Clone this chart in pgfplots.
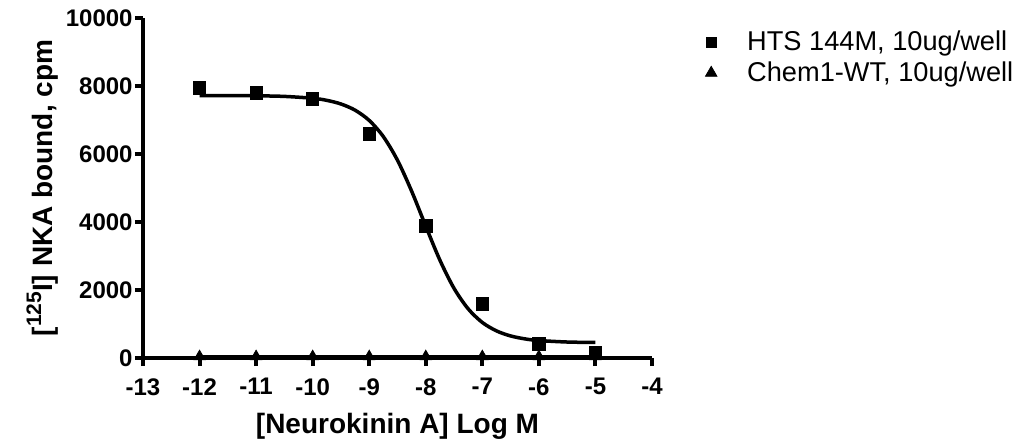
\documentclass[border=0pt]{standalone}
\usepackage{pgfplots}
\pgfplotsset{compat=1.18}
\usepackage{fontspec}
\setmainfont{Liberation Sans}

\pgfplotstableread{
x y
-12 7950
-11 7800
-10 7620
-9 6590
-8 3880
-7 1590
-6 410
-5 150
}\hts

\pgfplotstableread{
x y
-12 40
-11 40
-10 40
-9 40
-8 40
-7 40
-6 40
-5 40
}\chem

\pgfplotstableread{
x y
-12 7719
-11.5 7717
-11 7712
-10.5 7694
-10 7639
-9.75 7578
-9.5 7471
-9.25 7289
-9 6987
-8.75 6511
-8.5 5816
-8.25 4907
-8 3876
-7.75 2877
-7.5 2048
-7.25 1445
-7 1045
-6.75 797
-6.5 649
-6.25 563
-6 514
-5.5 470
-5 456
}\fit

\begin{document}
\begin{tikzpicture}
\path[use as bounding box] (-71.5pt,-41pt) rectangle (443pt,179pt);
\begin{axis}[
  scale only axis,
  width=254.5pt, height=170pt,
  xmin=-13, xmax=-4, ymin=0, ymax=10000,
  axis x line*=bottom, axis y line*=left,
  axis line style={line width=2pt},
  xtick={-13,-12,-11,-10,-9,-8,-7,-6,-5,-4},
  xticklabels={-13,-12,-11,-10,-9,-8,-7,-6,-5,-4},
  ytick={0,2000,4000,6000,8000,10000},
  yticklabels={0,2000,4000,6000,8000,10000},
  scaled y ticks=false,
  tick align=outside, major tick length=4pt,
  tick style={line width=2pt, black},
  ticklabel style={font=\fontsize{12}{14}\selectfont\bfseries},
  xticklabel style={inner sep=1pt, yshift=-5pt},
  yticklabel style={inner sep=1pt},
  xlabel={[Neurokinin A] Log M},
  ylabel={[\raisebox{0.42em}{\fontsize{10.5}{11}\selectfont 125}I] NKA bound, cpm},
  label style={font=\fontsize{14}{16}\selectfont\bfseries},
  xlabel style={yshift=-4.5pt},
  ylabel style={yshift=-1pt},
  legend image code/.code={
    \path[draw=none, fill=none] (0pt,-5pt) rectangle (22pt,5pt);
    \draw[#1] plot coordinates {(6pt,0pt)};
  },
  legend style={draw=none, at={(1.092,0.975)}, anchor=north west,
    font=\fontsize{13.6}{16}\selectfont, row sep=0pt, inner sep=0pt,
    nodes={inner sep=2pt}},
  legend cell align=left,
  clip=false,
]
\addplot[only marks, mark=square*, mark size=3.1pt, black,
  legend image post style={mark size=2.6pt}] table {\hts};
\addlegendentry{HTS 144M, 10ug/well}
\addplot[only marks, mark=triangle*, mark size=3.2pt, black,
  legend image post style={mark size=3.3pt}] table {\chem};
\addlegendentry{Chem1-WT, 10ug/well}
\addplot[black, line width=1.75pt, smooth, forget plot] table {\fit};
\addplot[black, line width=1.75pt, forget plot] coordinates {(-12,40)(-5,40)};
\end{axis}
\end{tikzpicture}
\end{document}
